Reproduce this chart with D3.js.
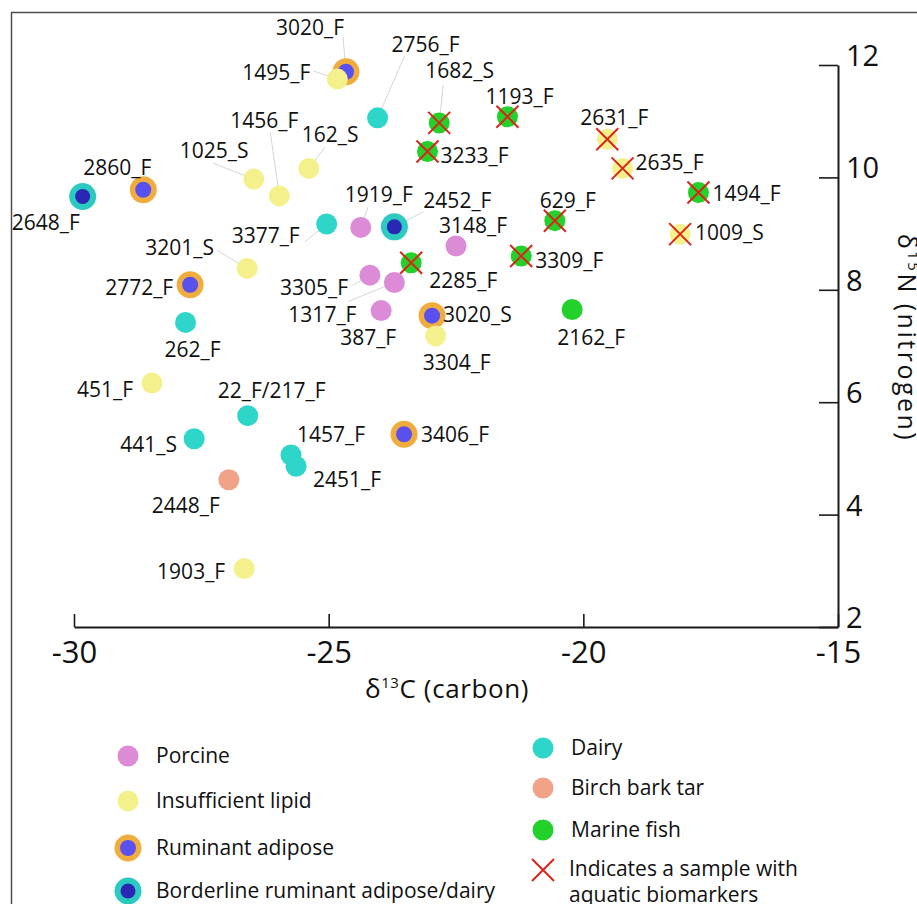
<!DOCTYPE html>
<html>
<head>
<meta charset="utf-8">
<script src="https://cdn.jsdelivr.net/npm/d3@7"></script>
<style>
	html, body { margin: 0; padding: 0; background: #fff; overflow: hidden; }
	svg { display: block; font-family: "Open Sans", sans-serif; }
</style>
</head>
<body>
<svg id="isotopeChart" width="917" height="904"></svg>
<script>
//=============== data =======================================
var sampleIds = ["2648_F", "2860_F", "1025_S", "1456_F", "162_S", "3020_F", "1495_F", "2756_F",
	"1682_S", "3233_F", "1193_F", "2631_F", "2635_F", "1494_F", "1009_S", "1919_F", "2452_F",
	"3377_F", "629_F", "3148_F", "3201_S", "2285_F", "3309_F", "2772_F", "3305_F", "1317_F",
	"387_F", "3020_S", "3304_F", "2162_F", "262_F", "451_F", "22_F/217_F", "441_S", "1457_F",
	"2451_F", "3406_F", "2448_F", "1903_F"];

var carbon = [-29.83, -28.64, -26.47, -25.97, -25.39, -24.66, -24.83, -24.04,
	-22.83, -23.06, -21.49, -19.53, -19.23, -17.74, -18.10, -24.37, -23.71,
	-25.04, -20.56, -22.50, -26.60, -23.38, -21.22, -27.72, -24.19, -23.71,
	-23.97, -22.97, -22.90, -20.22, -27.81, -28.47, -26.59, -27.64, -25.74,
	-25.64, -23.52, -26.96, -26.66];

var nitrogen = [9.66, 9.78, 9.97, 9.67, 10.16, 11.88, 11.75, 11.06,
	10.97, 10.46, 11.08, 10.68, 10.16, 9.73, 8.99, 9.11, 9.12,
	9.17, 9.23, 8.78, 8.38, 8.48, 8.60, 8.09, 8.26, 8.13,
	7.63, 7.54, 7.18, 7.65, 7.42, 6.34, 5.76, 5.35, 5.06,
	4.86, 5.43, 4.62, 3.04];

var groups = ["borderline", "ruminant", "insufficient", "insufficient", "insufficient", "ruminant", "insufficient", "dairy",
	"marine", "marine", "marine", "insufficient", "insufficient", "marine", "insufficient", "porcine", "borderline",
	"dairy", "marine", "porcine", "insufficient", "marine", "marine", "ruminant", "porcine", "porcine",
	"porcine", "ruminant", "insufficient", "marine", "dairy", "insufficient", "dairy", "dairy", "dairy",
	"dairy", "ruminant", "birch", "insufficient"];

// 1 = aquatic biomarkers
var aquatic = [0, 0, 0, 0, 0, 0, 0, 0,
	1, 1, 1, 1, 1, 1, 1, 0, 0,
	0, 1, 0, 0, 1, 1, 0, 0, 0,
	0, 0, 0, 0, 0, 0, 0, 0, 0,
	0, 0, 0, 0];

var xTicks = [-30, -25, -20, -15];
var yTicks = [2, 4, 6, 8, 10, 12];

var legendLeft = ["porcine", "insufficient", "ruminant", "borderline"];
var legendRight = ["dairy", "birch", "marine"];
var legendNames = {
	porcine: "Porcine",
	insufficient: "Insufficient lipid",
	ruminant: "Ruminant adipose",
	borderline: "Borderline ruminant adipose/dairy",
	dairy: "Dairy",
	birch: "Birch bark tar",
	marine: "Marine fish"
};
var aquaticNote = ["Indicates a sample with", "aquatic biomarkers"];

//=============== styles / label layout =======================================
var groupStyle = {
	porcine: { fill: "#dc8cd6" },
	insufficient: { fill: "#f4f08c" },
	dairy: { fill: "#2dd6c8" },
	birch: { fill: "#f1a388" },
	marine: { fill: "#24d12b" },
	ruminant: { ring: "#f0ad3e", fill: "#5a50ef" },
	borderline: { ring: "#2ccac1", fill: "#2a27b5" }
};

// label offset from point (left, baseline) + optional leader start
var labelPos = {
	"3020_F": [-70, -37, -3, -35],
	"1495_F": [-95, 1, -24, -8],
	"2756_F": [14, -66, 27, -62],
	"1682_S": [-14, -45, 4, -38],
	"1193_F": [-22, -13],
	"2631_F": [-27, -14],
	"3233_F": [13, 11],
	"2635_F": [13, 2],
	"162_S": [-7, -26, 16, -21],
	"1025_S": [-74, -21, -41, -16],
	"1456_F": [-49, -68, -9, -64],
	"2860_F": [-60, -15],
	"2648_F": [-71, 33],
	"1494_F": [14, 8],
	"1919_F": [-16, -25, 7, -20],
	"2452_F": [29, -19, 29, -15],
	"629_F": [-15, -13],
	"1009_S": [15, 6],
	"3377_F": [-95, 19, -22, 18],
	"3148_F": [-17, -13],
	"3201_S": [-102, -13, -30, -18],
	"2285_F": [18, 25, 12, 15],
	"3309_F": [14, 12],
	"2772_F": [-85, 10],
	"3305_F": [-90, 20, -17, 10],
	"1317_F": [-106, 40, -46, 19],
	"387_F": [-41, 34],
	"3020_S": [11, 6],
	"3304_F": [-13, 34],
	"2162_F": [-15, 36],
	"262_F": [-21, 35],
	"451_F": [-75, 14],
	"22_F/217_F": [-30, -18],
	"441_S": [-74, 13],
	"1457_F": [6, -13],
	"2451_F": [17, 21],
	"3406_F": [17, 8],
	"2448_F": [-77, 33],
	"1903_F": [-87, 10]
};

//=============== chart =======================================
var svg = d3.select("#isotopeChart");

// outer frame
svg.append("rect")
	.attr("x", 11.5).attr("y", 12.5)
	.attr("width", 1000).attr("height", 1000)
	.attr("fill", "none")
	.attr("stroke", "#4d4d4d")
	.attr("stroke-width", 1.5);

var x = d3.scaleLinear().domain([-30, -15]).range([74, 838]);
var y = d3.scaleLinear().domain([2, 12]).range([627, 65]);

var data = sampleIds.map((id, i) => ({
	id: id, c: carbon[i], n: nitrogen[i], g: groups[i], aq: aquatic[i]
}));

// axes (plain hyphen for minus)
var xAxis = svg.append("g")
	.attr("transform", `translate(0,${y(2)})`)
	.call(d3.axisBottom(x).tickValues(xTicks).tickFormat(d => String(d))
		.tickSizeInner(-13).tickSizeOuter(0).tickPadding(14));

var yAxis = svg.append("g")
	.attr("transform", `translate(${x(-15)},0)`)
	.call(d3.axisRight(y).tickValues(yTicks).tickFormat(d => String(d))
		.tickSizeInner(-19).tickSizeOuter(0).tickPadding(8));

[xAxis, yAxis].forEach(a => {
	a.select(".domain").attr("stroke", "#1a1a1a").attr("stroke-width", 2);
	a.selectAll(".tick line").attr("stroke", "#1a1a1a").attr("stroke-width", 1.6);
	a.selectAll(".tick text").attr("fill", "#111").style("font-family", "Open Sans");
});
xAxis.selectAll(".tick text").style("font-size", "31px");
yAxis.selectAll(".tick text").style("font-size", "29px").attr("dy", "0.02em");

// axis titles
var xt = svg.append("text")
	.attr("x", 447).attr("y", 698)
	.attr("text-anchor", "middle")
	.style("font-size", "26px")
	.style("letter-spacing", "0.6px")
	.attr("fill", "#111");
xt.append("tspan").text("δ");
xt.append("tspan").attr("dy", -10).style("font-size", "15px").text("13");
xt.append("tspan").attr("dy", 10).text("C (carbon)");

var yt = svg.append("text")
	.attr("transform", "translate(898,338) rotate(90)")
	.attr("text-anchor", "middle")
	.style("font-size", "25px")
	.style("letter-spacing", "2.5px")
	.attr("fill", "#111");
yt.append("tspan").text("δ");
yt.append("tspan").attr("dy", -10).style("font-size", "15px").text("15");
yt.append("tspan").attr("dy", 10).text("N (nitrogen)");

// leader lines
svg.append("g").selectAll("line")
	.data(data.filter(d => labelPos[d.id].length > 2))
	.enter().append("line")
	.attr("x1", d => x(d.c) + labelPos[d.id][2])
	.attr("y1", d => y(d.n) + labelPos[d.id][3])
	.attr("x2", d => x(d.c))
	.attr("y2", d => y(d.n))
	.attr("stroke", "#d6d6d6")
	.attr("stroke-width", 1);

function drawSymbol(g, group) {
	var s = groupStyle[group];
	if (s.ring) {
		g.append("circle").attr("r", 13.5).attr("fill", s.ring);
		g.append("circle").attr("r", group === "ruminant" ? 8 : 7.5).attr("fill", s.fill);
	} else {
		g.append("circle").attr("r", 10.5).attr("fill", s.fill);
	}
}

function drawCross(g) {
	g.append("path")
		.attr("d", "M-11,-11L11,11M-11,11L11,-11")
		.attr("stroke", "#d8261b")
		.attr("stroke-width", 2)
		.attr("fill", "none");
}

// points
var pts = svg.append("g").selectAll("g")
	.data(data)
	.enter().append("g")
	.attr("transform", d => `translate(${x(d.c)},${y(d.n)})`);

pts.each(function (d) { drawSymbol(d3.select(this), d.g); });
pts.filter(d => d.aq === 1).each(function () { drawCross(d3.select(this)); });

// labels
svg.append("g").selectAll("text")
	.data(data)
	.enter().append("text")
	.attr("x", d => x(d.c) + labelPos[d.id][0])
	.attr("y", d => y(d.n) + labelPos[d.id][1])
	.style("font-size", "21px")
	.attr("fill", "#111")
	.text(d => d.id);

// legend
var leg = svg.append("g").style("font-size", "21px");

legendLeft.forEach((k, i) => {
	var row = leg.append("g").attr("transform", `translate(128,${[756, 801, 848, 891][i]})`);
	drawSymbol(row, k);
	row.append("text").attr("x", 28).attr("dy", "0.35em").attr("fill", "#111").text(legendNames[k]);
});

legendRight.forEach((k, i) => {
	var row = leg.append("g").attr("transform", `translate(543,${[748, 788, 830][i]})`);
	drawSymbol(row, k);
	row.append("text").attr("x", 28).attr("dy", "0.35em").attr("fill", "#111").text(legendNames[k]);
});

var xRow = leg.append("g").attr("transform", "translate(543,870)");
drawCross(xRow);
xRow.selectAll("text")
	.data(aquaticNote)
	.enter().append("text")
	.attr("x", 26)
	.attr("y", (d, i) => i * 26)
	.attr("dy", "0.3em")
	.attr("fill", "#111")
	.text(d => d);
</script>
</body>
</html>
